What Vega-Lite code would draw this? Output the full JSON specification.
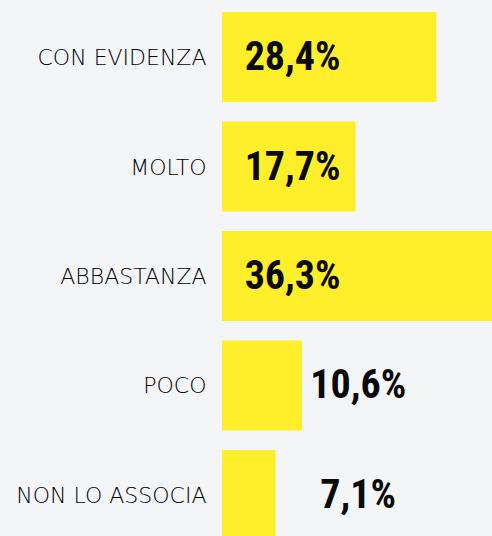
{
  "$schema": "https://vega.github.io/schema/vega-lite/v6.json",
  "width": 270,
  "height": 536,
  "autosize": {"type": "none"},
  "padding": {"left": 222, "top": 0, "right": 0, "bottom": 0},
  "background": "#f4f5f7",
  "config": {
    "view": {"stroke": null},
    "locale": {"number": {"decimal": ",", "thousands": ".", "grouping": [3], "currency": ["€", ""]}}
  },
  "data": {
    "values": [
      {"categoria": "CON EVIDENZA", "quota": 0.284},
      {"categoria": "MOLTO", "quota": 0.177},
      {"categoria": "ABBASTANZA", "quota": 0.363},
      {"categoria": "POCO", "quota": 0.106},
      {"categoria": "NON LO ASSOCIA", "quota": 0.071}
    ]
  },
  "encoding": {
    "y": {
      "field": "categoria",
      "type": "nominal",
      "sort": null,
      "scale": {"range": [0, 552], "paddingInner": 0.178, "paddingOuter": 0.11},
      "axis": {
        "title": null,
        "domain": false,
        "ticks": false,
        "labelPadding": 16,
        "labelFont": "DejaVu Sans",
        "labelFontSize": 22,
        "labelFontWeight": 300,
        "labelColor": "#000000",
        "labelBaseline": "middle",
        "labelOffset": 1,
        "labelLimit": 300
      }
    }
  },
  "layer": [
    {
      "mark": {"type": "bar", "color": "#ffef2b"},
      "encoding": {
        "x": {"field": "quota", "type": "quantitative", "scale": {"domain": [0, 0.363], "range": [0, 274], "nice": false}, "axis": null}
      }
    },
    {
      "transform": [{"filter": "datum.quota > 0.15"}],
      "mark": {"type": "text", "align": "left", "baseline": "alphabetic", "dy": 13, "font": "Roboto Condensed", "fontSize": 40, "fontWeight": "bold", "color": "#0a0a0a"},
      "encoding": {
        "x": {"datum": 0.03, "type": "quantitative"},
        "text": {"field": "quota", "type": "quantitative", "format": ".1%"}
      }
    },
    {
      "transform": [{"filter": "datum.quota <= 0.15"}],
      "mark": {"type": "text", "align": "center", "baseline": "alphabetic", "dy": 13, "font": "Roboto Condensed", "fontSize": 40, "fontWeight": "bold", "color": "#0a0a0a"},
      "encoding": {
        "x": {"datum": 0.1805, "type": "quantitative"},
        "text": {"field": "quota", "type": "quantitative", "format": ".1%"}
      }
    }
  ]
}
